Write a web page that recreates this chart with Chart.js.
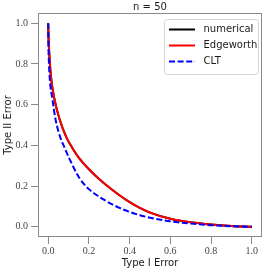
<!DOCTYPE html>
<html lang="en">
<head>
    <meta charset="utf-8">
    <title>n = 50</title>
    <script src="https://cdn.jsdelivr.net/npm/chart.js"></script>
    <style>
        html, body { margin: 0; padding: 0; background: #fff; }
        #box { width: 266px; height: 272px; position: relative; }
    </style>
</head>
<body>
    <div id="box"><canvas id="grafico"></canvas></div>

    <script>
        // valores
        let titulo = "n = 50";
        let ticksX = [0, 0.2, 0.4, 0.6, 0.8, 1.0];
        let ticksY = [0, 0.2, 0.4, 0.6, 0.8, 1.0];

        let alphaNumerico = [0, 0.002, 0.007, 0.015, 0.031, 0.056, 0.09, 0.12, 0.15, 0.2, 0.25, 0.3, 0.35, 0.4, 0.45, 0.5, 0.6, 0.7, 0.8, 0.9, 1.0];
        let betaNumerico = [1.0, 0.922, 0.823, 0.725, 0.626, 0.528, 0.438, 0.385, 0.34, 0.283, 0.235, 0.193, 0.155, 0.121, 0.093, 0.07, 0.04, 0.022, 0.011, 0.004, 0.0];

        let alphaEdgeworth = [0, 0.002, 0.007, 0.015, 0.031, 0.056, 0.09, 0.12, 0.15, 0.2, 0.25, 0.3, 0.35, 0.4, 0.45, 0.5, 0.6, 0.7, 0.8, 0.9, 1.0];
        let betaEdgeworth = [1.0, 0.922, 0.823, 0.725, 0.626, 0.528, 0.438, 0.385, 0.34, 0.283, 0.235, 0.193, 0.155, 0.121, 0.093, 0.07, 0.04, 0.022, 0.011, 0.004, 0.0];

        let alphaCLT = [0, 0.001, 0.003, 0.008, 0.021, 0.036, 0.06, 0.08, 0.104, 0.153, 0.2, 0.25, 0.3, 0.35, 0.4, 0.45, 0.5, 0.6, 0.7, 0.8, 0.9, 1.0];
        let betaCLT = [1.0, 0.9, 0.823, 0.725, 0.626, 0.528, 0.438, 0.39, 0.335, 0.24, 0.185, 0.148, 0.118, 0.093, 0.073, 0.057, 0.045, 0.027, 0.016, 0.008, 0.003, 0.0];

        function pontos(xs, ys) {
            return xs.map((x, i) => ({ x: x, y: ys[i] }));
        }

        const corEixo = "#8a8a8a";
        const fonteSerif = { family: "'Liberation Serif', serif", size: 10 };
        const fonteSans = { family: "'DejaVu Sans', sans-serif", size: 10 };

        // titulo, moldura e legenda desenhados a mao (legenda dentro da area do grafico)
        const extras = {
            id: "extras",
            afterDraw(chart) {
                const ctx = chart.ctx;
                const a = chart.chartArea;
                ctx.save();

                ctx.strokeStyle = corEixo;
                ctx.lineWidth = 1;
                ctx.strokeRect(a.left + 0.5, a.top + 0.5, a.right - a.left - 1, a.bottom - a.top - 1);

                ctx.fillStyle = "#1a1a1a";
                ctx.font = "10px 'DejaVu Sans', sans-serif";
                ctx.textAlign = "center";
                ctx.textBaseline = "middle";
                ctx.fillText(titulo, (a.left + a.right) / 2, 7.5);

                let w = 94, h = 55;
                let lx = a.right - 4 - w, ly = a.top + 6;
                ctx.beginPath();
                ctx.roundRect(lx + 0.5, ly + 0.5, w, h, 3);
                ctx.fillStyle = "rgba(255,255,255,0.85)";
                ctx.fill();
                ctx.strokeStyle = "#d4d4d4";
                ctx.stroke();

                ctx.textAlign = "left";
                chart.data.datasets.forEach((ds, i) => {
                    let y = ly + 10.5 + i * 16;
                    ctx.beginPath();
                    ctx.strokeStyle = ds.borderColor;
                    ctx.lineWidth = ds.borderWidth;
                    ctx.setLineDash(ds.borderDash || []);
                    ctx.moveTo(lx + 5, y);
                    ctx.lineTo(lx + 31, y);
                    ctx.stroke();
                    ctx.setLineDash([]);
                    ctx.fillStyle = "#1a1a1a";
                    ctx.fillText(ds.label, lx + 39.5, y);
                });
                ctx.restore();
            }
        };

        new Chart(document.getElementById("grafico"), {
            type: "line",
            data: {
                datasets: [
                    { label: "numerical", data: pontos(alphaNumerico, betaNumerico), borderColor: "#000000", borderWidth: 2, order: 3 },
                    { label: "Edgeworth", data: pontos(alphaEdgeworth, betaEdgeworth), borderColor: "#ff0000", borderWidth: 2, order: 2 },
                    { label: "CLT", data: pontos(alphaCLT, betaCLT), borderColor: "#0000ff", borderWidth: 2, borderDash: [6, 2.6], order: 1 }
                ]
            },
            options: {
                responsive: true,
                maintainAspectRatio: false,
                animation: false,
                layout: { padding: { top: 13, right: 4, left: 0, bottom: 0 } },
                elements: {
                    point: { radius: 0 },
                    line: { fill: false, cubicInterpolationMode: "monotone" }
                },
                plugins: {
                    legend: { display: false },
                    title: { display: false },
                    tooltip: { enabled: false }
                },
                scales: {
                    x: {
                        type: "linear",
                        min: -0.05,
                        max: 1.05,
                        afterBuildTicks: s => { s.ticks = ticksX.map(v => ({ value: v })); },
                        afterFit: s => { s.height = 35; },
                        ticks: { font: fonteSerif, color: "#444", padding: 1, maxRotation: 0, callback: v => v.toFixed(1) },
                        grid: { drawOnChartArea: false, drawTicks: true, tickLength: 7, tickColor: corEixo },
                        border: { display: false },
                        title: { display: true, text: "Type I Error", font: fonteSans, color: "#1a1a1a", padding: { top: 0, bottom: 3 } }
                    },
                    y: {
                        min: -0.05,
                        max: 1.05,
                        afterBuildTicks: s => { s.ticks = ticksY.map(v => ({ value: v })); },
                        afterFit: s => { s.width = 38; },
                        ticks: { font: fonteSerif, color: "#444", padding: 3, callback: v => v.toFixed(1) },
                        grid: { drawOnChartArea: false, drawTicks: true, tickLength: 7, tickColor: corEixo },
                        border: { display: false },
                        title: { display: true, text: "Type II Error", font: fonteSans, color: "#1a1a1a", padding: { top: 2, bottom: 0 } }
                    }
                }
            },
            plugins: [extras]
        });
    </script>
</body>
</html>
